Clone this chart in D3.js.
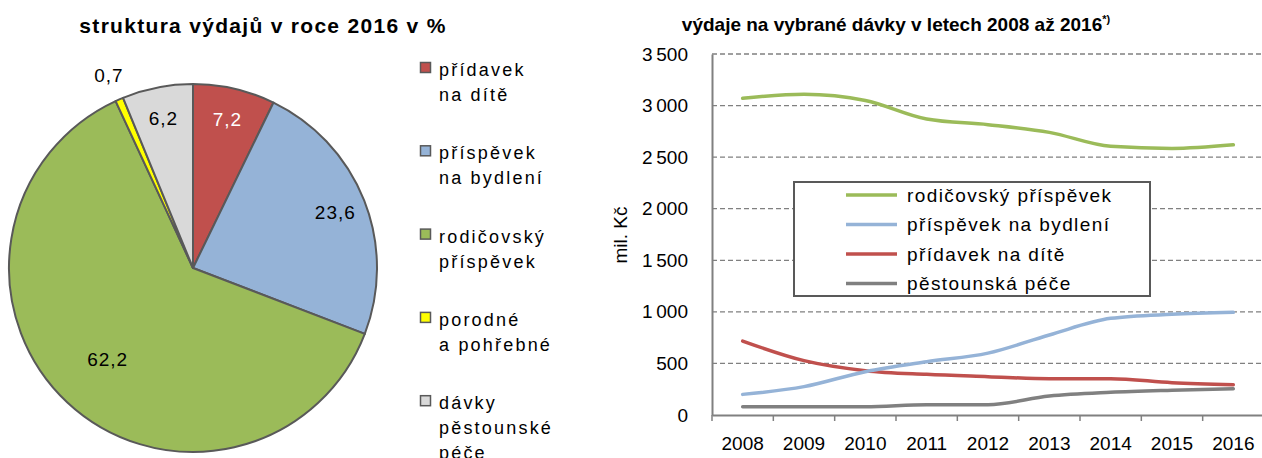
<!DOCTYPE html>
<html>
<head>
<meta charset="utf-8">
<script src="https://cdn.jsdelivr.net/npm/d3@7"></script>
<style>
  body { margin: 0; background: #fff; }
  svg { display: block; font-family: "Liberation Sans", Arial, sans-serif; }
</style>
</head>
<body>
<svg width="1262" height="458"></svg>
<script>
// pie data (2016 structure, %)
const pieLabels = [["přídavek", "na dítě"], ["příspěvek", "na bydlení"], ["rodičovský", "příspěvek"], ["porodné", "a pohřebné"], ["dávky", "pěstounské", "péče"]];
const pieValues = [7.2, 23.6, 62.2, 0.7, 6.2];
const pieColors = ["#C0504D", "#95B3D7", "#9BBB59", "#FFFF00", "#D9D9D9"];

// line data (mil. Kč)
const years = ["2008", "2009", "2010", "2011", "2012", "2013", "2014", "2015", "2016"];
const rodicovsky = [3070, 3110, 3050, 2870, 2815, 2740, 2605, 2585, 2620];
const bydleni = [200, 275, 420, 517, 600, 776, 937, 976, 995];
const pridavek = [717, 527, 430, 394, 372, 352, 352, 313, 294];
const pestounska = [81, 81, 81, 100, 100, 184, 220, 240, 255];
const yTicks = [0, 500, 1000, 1500, 2000, 2500, 3000, 3500];

const svg = d3.select("svg");
const fmt = v => String(v).replace(".", ",");

// ---------- left: pie ----------
svg.append("text")
  .attr("x", 263).attr("y", 33)
  .attr("text-anchor", "middle")
  .attr("font-size", "21px").attr("font-weight", "bold")
  .attr("letter-spacing", "1.3px")
  .text("struktura výdajů v roce 2016 v %");

const pieG = svg.append("g").attr("transform", "translate(193,268)");
const pie = d3.pie().sort(null).value(d => d)(pieValues);
const radius = 184;
const arc = d3.arc().innerRadius(0).outerRadius(radius);

pieG.selectAll("path.slice")
  .data(pie)
  .enter().append("path")
  .attr("class", "slice")
  .attr("d", arc)
  .attr("fill", (d, i) => pieColors[i])
  .attr("stroke", "#595959")
  .attr("stroke-width", 2)
  .attr("stroke-linejoin", "round");

pieG.selectAll("text.val")
  .data(pie)
  .enter().append("text")
  .attr("class", "val")
  .attr("transform", d => {
    const r = d.value < 2 ? 210 : (d.value > 50 ? 125 : 153);
    const a = (d.startAngle + d.endAngle) / 2;
    return `translate(${Math.sin(a) * r},${-Math.cos(a) * r})`;
  })
  .attr("dy", "0.36em")
  .attr("text-anchor", "middle")
  .attr("font-size", "19px")
  .attr("letter-spacing", "1px")
  .attr("fill", (d, i) => i === 0 ? "#fff" : "#000")
  .text(d => fmt(d.value));

// pie legend
const pLeg = svg.append("g").attr("transform", "translate(420,62)");
const pItem = pLeg.selectAll("g")
  .data(pieLabels)
  .enter().append("g")
  .attr("transform", (d, i) => `translate(0,${i * 83.3})`);

pItem.append("rect")
  .attr("x", 0.5).attr("y", 0.5)
  .attr("width", 10).attr("height", 10)
  .attr("fill", (d, i) => pieColors[i])
  .attr("stroke", "#595959")
  .attr("stroke-width", 1.5);

pItem.each(function(lines) {
  const t = d3.select(this).append("text")
    .attr("x", 19).attr("y", 14)
    .attr("font-size", "18px")
    .attr("letter-spacing", "2.2px")
    .attr("fill", "#000");
  lines.forEach((l, j) => {
    t.append("tspan").attr("x", 19).attr("dy", j === 0 ? 0 : 25).text(l);
  });
});

// ---------- right: line chart ----------
svg.append("text")
  .attr("x", 896).attr("y", 31)
  .attr("text-anchor", "middle")
  .attr("font-size", "19px").attr("font-weight", "bold")
  .text("výdaje na vybrané dávky v letech 2008 až 2016")
  .append("tspan")
  .attr("font-size", "11px").attr("dy", -8)
  .text("*)");

const x = d3.scaleBand().domain(years).range([712, 1264]).padding(0);
const y = d3.scaleLinear().domain([0, 3500]).range([415, 54]);

// gridlines
svg.append("g")
  .selectAll("line")
  .data(yTicks.filter(t => t > 0))
  .enter().append("line")
  .attr("x1", 712).attr("x2", 1264)
  .attr("y1", d => y(d)).attr("y2", d => y(d))
  .attr("stroke", "#808080")
  .attr("stroke-width", 1.3)
  .attr("stroke-dasharray", "5,3");

// y axis
const yAxis = svg.append("g")
  .attr("transform", "translate(712,0)")
  .call(d3.axisLeft(y).tickValues(yTicks).tickSize(0).tickPadding(24)
    .tickFormat(d => d >= 1000 ? d3.format(",")(d).replace(",", "\u2009") : d));
yAxis.select(".domain").attr("stroke", "#808080").attr("stroke-width", 2);
yAxis.selectAll("text").attr("font-size", "19px").attr("font-family", "Liberation Sans, Arial, sans-serif").attr("fill", "#000");

// x axis
const xAxis = svg.append("g")
  .attr("transform", "translate(0,415)")
  .call(d3.axisBottom(x).tickSize(0).tickPadding(22));
xAxis.select(".domain").attr("stroke", "#808080").attr("stroke-width", 2);
xAxis.selectAll("text").attr("font-size", "19px").attr("font-family", "Liberation Sans, Arial, sans-serif").attr("fill", "#000");
xAxis.selectAll(".sep")
  .data(years)
  .enter().append("line")
  .attr("class", "sep")
  .attr("x1", d => x(d)).attr("x2", d => x(d))
  .attr("y1", 0).attr("y2", 6)
  .attr("stroke", "#808080").attr("stroke-width", 1.5);

svg.append("text")
  .attr("transform", "translate(627,235) rotate(-90)")
  .attr("text-anchor", "middle")
  .attr("font-size", "19px")
  .text("mil. Kč");

// lines
const series = [
  { name: "rodičovský příspěvek", values: rodicovsky, color: "#9BBB59" },
  { name: "příspěvek na bydlení", values: bydleni, color: "#95B3D7" },
  { name: "přídavek na dítě", values: pridavek, color: "#C0504D" },
  { name: "pěstounská péče", values: pestounska, color: "#808080" }
];

const line = d3.line()
  .x((d, i) => x(years[i]) + x.bandwidth() / 2)
  .y(d => y(d))
  .curve(d3.curveMonotoneX);

// draw in reverse so green ends up on top like the original
svg.append("g")
  .selectAll("path")
  .data(series.slice().reverse())
  .enter().append("path")
  .attr("d", d => line(d.values))
  .attr("fill", "none")
  .attr("stroke", d => d.color)
  .attr("stroke-width", 3.5)
  .attr("stroke-linecap", "round")
  .attr("stroke-linejoin", "round");

// line legend
const lg = svg.append("g");
lg.append("rect")
  .attr("x", 794).attr("y", 182)
  .attr("width", 356).attr("height", 114)
  .attr("fill", "#fff")
  .attr("stroke", "#595959")
  .attr("stroke-width", 2);

const li = lg.selectAll("g")
  .data(series)
  .enter().append("g")
  .attr("transform", (d, i) => `translate(0,${195 + i * 29.5})`);
li.append("line")
  .attr("x1", 846).attr("x2", 897)
  .attr("y1", 0).attr("y2", 0)
  .attr("stroke", d => d.color)
  .attr("stroke-width", 3.5);
li.append("text")
  .attr("x", 907).attr("y", 0)
  .attr("dy", "0.36em")
  .attr("font-size", "19px")
  .attr("letter-spacing", "1.4px")
  .text(d => d.name);
</script>
</body>
</html>
